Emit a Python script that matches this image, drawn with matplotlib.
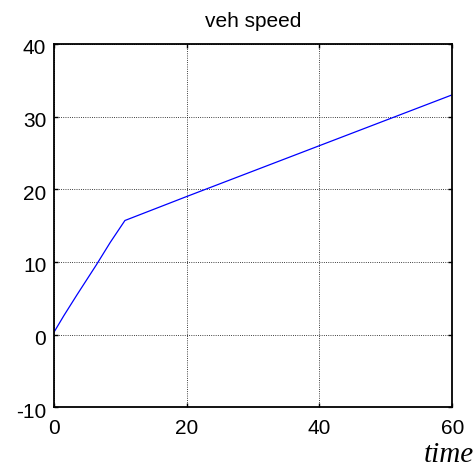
import numpy as np
import matplotlib
matplotlib.use('Agg')
from matplotlib import pyplot as plt
import matplotlib.transforms as mtrans

# datos
time = [0.0, 1.5, 3.5, 6.4, 8.5, 10.7, 20.0, 30.0, 40.0, 50.0, 60.0]
speed = [0.3, 2.6, 5.5, 9.6, 12.7, 15.7, 19.0, 22.5, 26.0, 29.5, 33.0]
xticks = [0, 20, 40, 60]
yticks = [-10, 0, 10, 20, 30, 40]

plt.rcParams['font.family'] = ['Liberation Sans', 'DejaVu Sans']
plt.rcParams['axes.unicode_minus'] = False

fig = plt.figure(figsize=(4.77, 4.68), dpi=100)
ax = fig.add_axes([0.113, 0.130, 0.835, 0.776])
ax.plot(time, speed, color='#0000ff', linewidth=0.9)
ax.set_xlim(0, 60)
ax.set_ylim(-10, 40)
ax.set_xticks(xticks)
ax.set_yticks(yticks)
ax.grid(True, color='black', linestyle=':', linewidth=0.6)
ax.tick_params(direction='in', length=3, width=1, top=True, right=True,
               labelsize=15)
ax.tick_params(axis='x', pad=8.5)
ax.tick_params(axis='y', pad=5.5)
# etiquetas y un poco mas abajo, como en matlab
off = mtrans.ScaledTranslation(0, -3 / 100, fig.dpi_scale_trans)
for lab in ax.get_yticklabels():
  lab.set_transform(lab.get_transform() + off)
for sp in ax.spines.values():
  sp.set_linewidth(1.3)
ax.set_title('veh speed', fontsize=15, pad=12)
fig.text(0.941, 0.013, 'time', fontsize=21, style='italic',
         family='Liberation Serif', ha='center', va='baseline')
fig.savefig('out.png', dpi=100)
